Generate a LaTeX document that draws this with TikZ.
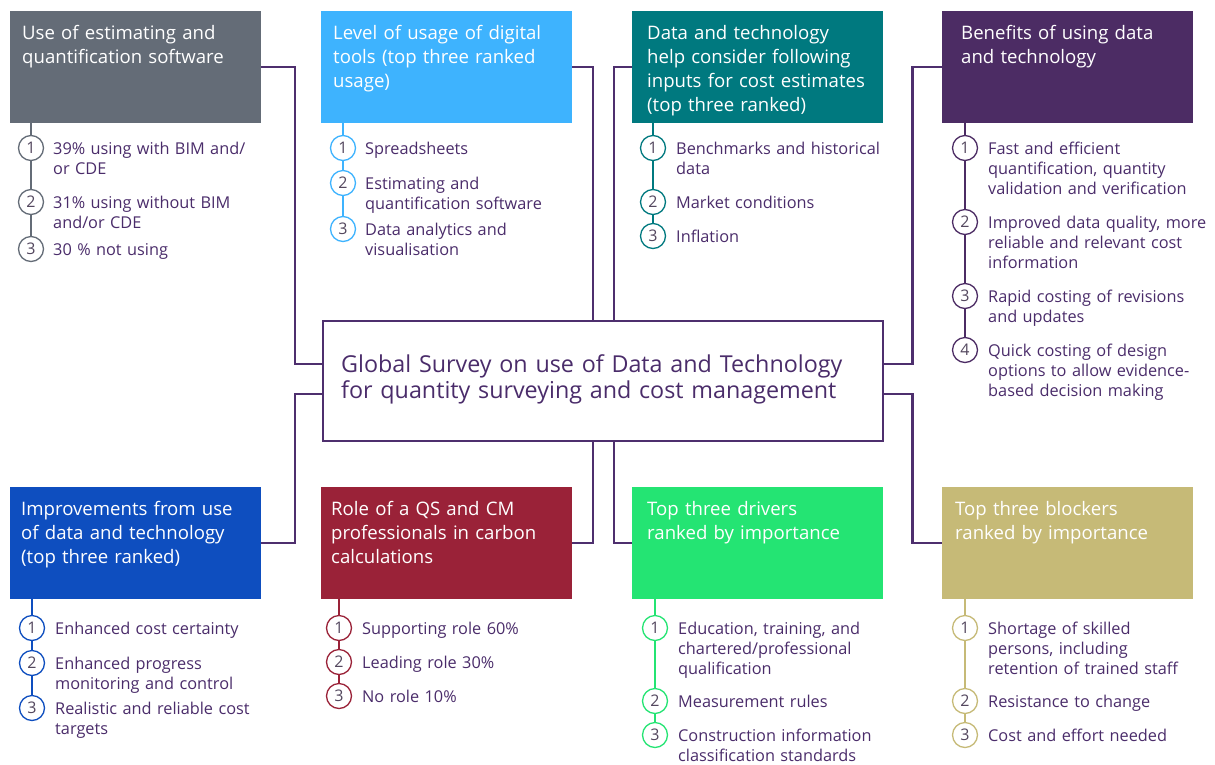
\documentclass[tikz,border=0pt]{standalone}
\usepackage{fontspec}
\setmainfont{Open Sans}
\definecolor{c1}{HTML}{646C77}
\definecolor{c2}{HTML}{3EB3FE}
\definecolor{c3}{HTML}{00797F}
\definecolor{c4}{HTML}{4C2C64}
\definecolor{c5}{HTML}{0E4EBF}
\definecolor{c6}{HTML}{9A2238}
\definecolor{c7}{HTML}{24E473}
\definecolor{c8}{HTML}{C6BA77}
\definecolor{lc}{HTML}{4E2F6E}
\definecolor{txt}{HTML}{4A2C6A}
\definecolor{numc}{HTML}{54485F}
\begin{document}
\begin{tikzpicture}[x=1pt,y=-1pt,
  hbox/.style={fill=#1, draw=none, minimum width=251pt, minimum height=112pt, inner sep=0pt, anchor=north west},
  htext/.style={anchor=base west, text width=245pt, align=left, inner sep=0pt, text=white, font=\fontsize{18.6}{24}\selectfont},
  num/.style={circle, draw=#1, line width=1.3pt, fill=white, minimum size=25pt, inner sep=0pt, text=numc, font=\fontsize{16}{16}\selectfont},
  itext/.style={anchor=base west, text width=250pt, align=left, inner sep=0pt, text=txt, font=\fontsize{16.3}{20}\selectfont},
  conn/.style={draw=lc, line width=2.4pt},
  iline/.style={draw=#1, line width=1.4pt}
]
\useasboundingbox (0,0) rectangle (1215,764);

% header boxes
\node[hbox=c1] (b1) at (10,11) {};
\node[hbox=c2] (b2) at (321,11) {};
\node[hbox=c3] (b3) at (632,11) {};
\node[hbox=c4] (b4) at (942,11) {};
\node[hbox=c5] (b5) at (10,487) {};
\node[hbox=c6] (b6) at (321,487) {};
\node[hbox=c7] (b7) at (632,487) {};
\node[hbox=c8] (b8) at (942,487) {};

\node[htext] (h1) at (22,39) {Use of estimating and\\quantification software};
\node[htext] (h2) at (333,39) {Level of usage of digital\\tools (top three ranked\\usage)};
\node[htext] (h3) at (647,39) {Data and technology\\help consider following\\inputs for cost estimates\\(top three ranked)};
\node[htext] (h4) at (961,39) {Benefits of using data\\and technology};
\node[htext] (h5) at (21,515) {Improvements from use\\of data and technology\\(top three ranked)};
\node[htext] (h6) at (331,515) {Role of a QS and CM\\professionals in carbon\\calculations};
\node[htext] (h7) at (647,515) {Top three drivers\\ranked by importance};
\node[htext] (h8) at (955,515) {Top three blockers\\ranked by importance};

% centre
\node[draw=lc, line width=2.4pt, minimum width=560pt, minimum height=120pt, inner sep=0pt, anchor=north west] (c) at (322,320) {};
\node[anchor=base west, text width=540pt, align=left, inner sep=0pt, text=txt, font=\fontsize{23.3}{26}\selectfont] (ct) at (341,372) {Global Survey on use of Data and Technology\\for quantity surveying and cost management};

% connectors
\draw[conn] (b1.east) -| ([xshift=-27pt,yshift=17pt]c.west) -- ([yshift=17pt]c.west);
\draw[conn] (b2.east) -| ([xshift=-10pt]c.north);
\draw[conn] (b3.west) -| ([xshift=11pt]c.north);
\draw[conn] (b4.west) -| ([xshift=28pt,yshift=17pt]c.east) -- ([yshift=17pt]c.east);
\draw[conn] ([yshift=-13pt]c.west) -- ([xshift=-27pt,yshift=-13pt]c.west) |- (b5.east);
\draw[conn] (b6.east) -| ([xshift=-10pt]c.south);
\draw[conn] (b7.west) -| ([xshift=11pt]c.south);
\draw[conn] ([yshift=-13pt]c.east) -- ([xshift=28pt,yshift=-13pt]c.east) |- (b8.west);

% box 1 items
\node[num=c1] (n11) at (31,148) {1};
\node[num=c1] (n12) at (31,202) {2};
\node[num=c1] (n13) at (31,249) {3};
\node[itext] at (53,154) {39\% using with BIM and/\\or CDE};
\node[itext] at (53,208) {31\% using without BIM\\and/or CDE};
\node[itext] at (53,255) {30 \% not using};
\draw[iline=c1] (b1.south -| n11) -- (n11) (n11) -- (n12) (n12) -- (n13);

% box 2 items
\node[num=c2] (n21) at (343,148) {1};
\node[num=c2] (n22) at (343,183) {2};
\node[num=c2] (n23) at (343,229) {3};
\node[itext] at (365,154) {Spreadsheets};
\node[itext] at (365,189) {Estimating and\\quantification software};
\node[itext] at (365,235) {Data analytics and\\visualisation};
\draw[iline=c2] (b2.south -| n21) -- (n21) (n21) -- (n22) (n22) -- (n23);

% box 3 items
\node[num=c3] (n31) at (653,148) {1};
\node[num=c3] (n32) at (653,202) {2};
\node[num=c3] (n33) at (653,236) {3};
\node[itext] at (676,154) {Benchmarks and historical\\data};
\node[itext] at (676,208) {Market conditions};
\node[itext] at (676,242) {Inflation};
\draw[iline=c3] (b3.south -| n31) -- (n31) (n31) -- (n32) (n32) -- (n33);

% box 4 items
\node[num=c4] (n41) at (965,148) {1};
\node[num=c4] (n42) at (965,222) {2};
\node[num=c4] (n43) at (965,296) {3};
\node[num=c4] (n44) at (965,350) {4};
\node[itext] at (988,154) {Fast and efficient\\quantification, quantity\\validation and verification};
\node[itext] at (988,228) {Improved data quality, more\\reliable and relevant cost\\information};
\node[itext] at (988,302) {Rapid costing of revisions\\and updates};
\node[itext] at (988,356) {Quick costing of design\\options to allow evidence-\\based decision making};
\draw[iline=c4] (b4.south -| n41) -- (n41) (n41) -- (n42) (n42) -- (n43) (n43) -- (n44);

% box 5 items
\node[num=c5] (n51) at (32,628) {1};
\node[num=c5] (n52) at (32,663) {2};
\node[num=c5] (n53) at (32,708) {3};
\node[itext] at (55,634) {Enhanced cost certainty};
\node[itext] at (55,669) {Enhanced progress\\monitoring and control};
\node[itext] at (55,714) {Realistic and reliable cost\\targets};
\draw[iline=c5] (b5.south -| n51) -- (n51) (n51) -- (n52) (n52) -- (n53);

% box 6 items
\node[num=c6] (n61) at (339,628) {1};
\node[num=c6] (n62) at (339,662) {2};
\node[num=c6] (n63) at (339,696) {3};
\node[itext] at (362,634) {Supporting role 60\%};
\node[itext] at (362,668) {Leading role 30\%};
\node[itext] at (362,702) {No role 10\%};
\draw[iline=c6] (b6.south -| n61) -- (n61) (n61) -- (n62) (n62) -- (n63);

% box 7 items
\node[num=c7] (n71) at (655,628) {1};
\node[num=c7] (n72) at (655,701) {2};
\node[num=c7] (n73) at (655,735) {3};
\node[itext] at (678,634) {Education, training, and\\chartered/professional\\qualification};
\node[itext] at (678,707) {Measurement rules};
\node[itext] at (678,741) {Construction information\\classification standards};
\draw[iline=c7] (b7.south -| n71) -- (n71) (n71) -- (n72) (n72) -- (n73);

% box 8 items
\node[num=c8] (n81) at (965,628) {1};
\node[num=c8] (n82) at (965,701) {2};
\node[num=c8] (n83) at (965,735) {3};
\node[itext] at (988,634) {Shortage of skilled\\persons, including\\retention of trained staff};
\node[itext] at (988,707) {Resistance to change};
\node[itext] at (988,741) {Cost and effort needed};
\draw[iline=c8] (b8.south -| n81) -- (n81) (n81) -- (n82) (n82) -- (n83);
\end{tikzpicture}
\end{document}
